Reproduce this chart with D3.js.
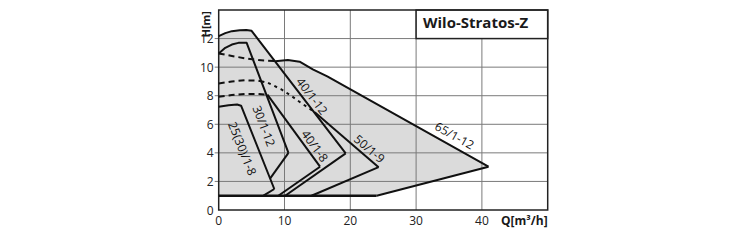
<!DOCTYPE html>
<html>
<head>
<meta charset="utf-8">
<script src="https://cdn.jsdelivr.net/npm/d3@7/dist/d3.min.js"></script>
<style>
body { margin: 0; background: #fff; }
text { font-family: "Open Sans", "Noto Sans", sans-serif; }
</style>
</head>
<body>
<svg id="chart" width="750" height="240"></svg>
<script>
// axis ticks
var qTicks = [0, 10, 20, 30, 40];
var hTicks = [0, 2, 4, 6, 8, 10, 12];

// pump curves, [Q m3/h, H m]
var p25_8_max  = [[0,7.22],[1.5,7.33],[2.8,7.38],[3.4,7.3],[8.45,1.47]];
var p25_8_min  = [[8.45,1.47],[6.8,1.0]];
var p30_12_max = [[0,10.96],[1,11.35],[2,11.58],[3,11.7],[4.25,11.7],[10.6,4.0]];
var p30_12_min = [[10.6,4.0],[7.8,2.2]];
var p40_8_dash = [[0,7.92],[2,8.05],[4,8.12],[6,8.12],[7.4,8.08]];
var p40_8_max  = [[7.4,8.08],[15.4,3.03]];
var p40_8_min  = [[15.4,3.03],[9.06,1.0]];
var p40_12_max = [[0,12.17],[1,12.38],[2,12.52],[3.2,12.59],[4.2,12.6],[5,12.54],[19.3,3.96]];
var p40_12_min = [[19.3,3.96],[10.1,1.0]];
var p50_9_dash = [[0,8.86],[2,9.0],[4,9.08],[6,9.05],[7.5,8.9]];
var p50_9_dot  = [[7.5,8.9],[9.5,8.45],[11,8.0],[12.5,7.5],[14.6,6.85]];
var p50_9_max  = [[14.6,6.85],[24.3,3.0]];
var p50_9_min  = [[24.3,3.0],[14.1,1.0]];
var p65_12_dash = [[0,10.96],[2,10.78],[4,10.62],[6,10.5],[8.6,10.42]];
var p65_12_max = [[8.6,10.42],[10.5,10.5],[12.3,10.38],[14.3,9.85],[16.5,9.35],[41,3.03]];
var p65_12_min = [[41,3.03],[24,1.0]];
var minHead = 1;

var pumpNames = ["25(30)/1-8", "30/1-12", "40/1-8", "40/1-12", "50/1-9", "65/1-12"];

var svg = d3.select("#chart");
var x = d3.scaleLinear().domain([0, 50]).range([218.7, 547.7]);
var y = d3.scaleLinear().domain([0, 14]).range([210, 10]);
var line = d3.line().x(function(d){ return x(d[0]); }).y(function(d){ return y(d[1]); });

var pumps = [
	{ name: pumpNames[0], parts: [p25_8_max, p25_8_min], labelAt: [3.62, 4.3], seg: p25_8_max.slice(-2) },
	{ name: pumpNames[1], parts: [p30_12_max, p30_12_min], labelAt: [6.88, 5.88], seg: p30_12_max.slice(-2) },
	{ name: pumpNames[2], parts: [p40_8_dash, p40_8_max, p40_8_min], labelAt: [14.63, 4.49], seg: p40_8_max },
	{ name: pumpNames[3], parts: [p40_12_max, p40_12_min], labelAt: [14.18, 7.98], seg: p40_12_max.slice(-2) },
	{ name: pumpNames[4], parts: [p50_9_dash, p50_9_dot, p50_9_max, p50_9_min], labelAt: [22.92, 4.29], seg: p50_9_max },
	{ name: pumpNames[5], parts: [p65_12_dash, p65_12_max, p65_12_min], labelAt: [35.84, 5.21], seg: p65_12_max.slice(-2) }
];

// shaded working area
pumps.forEach(function(p)
{
	var pts = [].concat.apply([], p.parts);
	var last = pts[pts.length - 1];
	pts = pts.concat([[last[0], minHead], [0, minHead]]);
	svg.append("path")
		.attr("d", line(pts) + "Z")
		.attr("fill", "#dbdbdb")
		.attr("stroke", "none");
});

// grid
svg.append("g").selectAll("line").data(qTicks.slice(1)).enter().append("line")
	.attr("x1", function(d){ return x(d); }).attr("x2", function(d){ return x(d); })
	.attr("y1", y(0)).attr("y2", y(14))
	.attr("stroke", "#7a7a7a").attr("stroke-width", 1);
svg.append("g").selectAll("line").data(hTicks.slice(1)).enter().append("line")
	.attr("x1", x(0) - 4).attr("x2", x(50))
	.attr("y1", function(d){ return y(d); }).attr("y2", function(d){ return y(d); })
	.attr("stroke", "#7a7a7a").attr("stroke-width", 1);

// title box
svg.append("rect")
	.attr("x", x(30)).attr("y", y(14))
	.attr("width", x(50) - x(30)).attr("height", y(12) - y(14))
	.attr("fill", "#fff").attr("stroke", "#222").attr("stroke-width", 1.5);
svg.append("text")
	.text("Wilo-Stratos-Z")
	.attr("x", 423).attr("y", 28)
	.attr("font-size", "15px").attr("font-weight", "bold")
	.attr("fill", "#1a1a1a");

// frame
svg.append("rect")
	.attr("x", x(0)).attr("y", y(14))
	.attr("width", x(50) - x(0)).attr("height", y(0) - y(14))
	.attr("fill", "none").attr("stroke", "#222").attr("stroke-width", 1.5);

// curves
var dashed = [p40_8_dash, p50_9_dash, p65_12_dash];
pumps.forEach(function(p)
{
	p.parts.forEach(function(part)
	{
		var dash = null;
		if (dashed.indexOf(part) >= 0) dash = "6,4";
		if (part === p50_9_dot) dash = "3,4";
		svg.append("path")
			.attr("d", line(part))
			.attr("fill", "none")
			.attr("stroke", "#111")
			.attr("stroke-width", 2)
			.attr("stroke-linejoin", "round")
			.attr("stroke-dasharray", dash);
	});
});
svg.append("path")
	.attr("d", line([[0, minHead], [24, minHead]]))
	.attr("fill", "none").attr("stroke", "#111").attr("stroke-width", 2.5);

// curve labels
pumps.forEach(function(p)
{
	var a = p.seg[0], b = p.seg[p.seg.length - 1];
	var ang = Math.atan2(y(b[1]) - y(a[1]), x(b[0]) - x(a[0])) * 180 / Math.PI;
	svg.append("text")
		.text(p.name)
		.attr("transform", "translate(" + x(p.labelAt[0]) + "," + y(p.labelAt[1]) + ") rotate(" + ang + ")")
		.attr("text-anchor", "middle")
		.attr("dominant-baseline", "central")
		.attr("font-size", "12px")
		.attr("fill", "#111");
});

// tick labels
svg.append("g").selectAll("text").data(hTicks).enter().append("text")
	.text(function(d){ return d; })
	.attr("x", x(0) - 5).attr("y", function(d){ return y(d); })
	.attr("text-anchor", "end").attr("dominant-baseline", "central")
	.attr("font-size", "12px").attr("fill", "#222");
svg.append("g").selectAll("text").data(qTicks).enter().append("text")
	.text(function(d){ return d; })
	.attr("x", function(d){ return x(d); }).attr("y", 225)
	.attr("text-anchor", "middle")
	.attr("font-size", "12px").attr("fill", "#222");

svg.append("text")
	.text("Q[m³/h]")
	.attr("x", x(50)).attr("y", 225)
	.attr("text-anchor", "end")
	.attr("font-size", "12px").attr("font-weight", "bold").attr("fill", "#1a1a1a");
svg.append("text")
	.text("H[m]")
	.attr("transform", "translate(210,11) rotate(-90)")
	.attr("text-anchor", "end")
	.attr("font-size", "11px").attr("font-weight", "bold").attr("fill", "#1a1a1a");
</script>
</body>
</html>
